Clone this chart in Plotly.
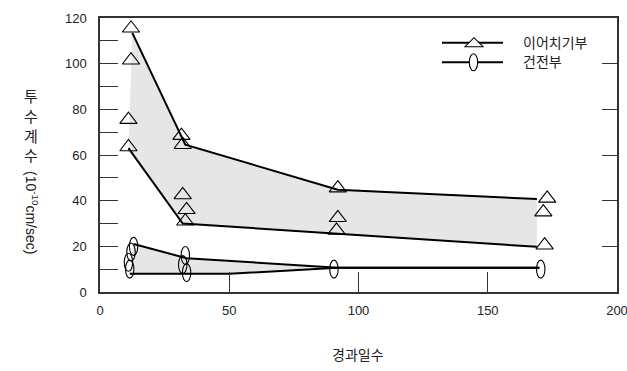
import plotly.graph_objects as go

# ---- data ----
tri_x = [12, 12, 11, 11, 31.5, 32, 32, 33.5, 33, 92, 92, 91.5, 173, 171.5, 172]
tri_y = [115.5, 101.5, 75.5, 63.5, 68.5, 64.5, 42.5, 36, 31, 45.5, 32.5, 27, 41, 35, 20.5]

ell_x = [13, 12, 11, 11.5, 33, 32, 33.5, 90.5, 170.5]
ell_y = [20, 17.5, 13, 10, 16, 12, 8.5, 10, 10]

tri_up_x = [12.5, 33, 92, 169]
tri_up_y = [113.5, 64.5, 44.8, 40.7]
tri_lo_x = [11, 32, 92, 169]
tri_lo_y = [63, 30, 25.5, 19.8]

ell_up_x = [13, 33.5, 92, 170]
ell_up_y = [21, 14.8, 10.6, 10.6]
ell_lo_x = [11.5, 50, 92, 170]
ell_lo_y = [8, 8, 10.6, 10.6]

x_ticks = [0, 50, 100, 150, 200]
y_ticks = [0, 20, 40, 60, 80, 100, 120]

series_names = ["이어치기부", "건전부"]
y_title_kor = ["투", "수", "계", "수"]
y_title_unit = "(10<sup>-10</sup>cm/sec)"
x_title = "경과일수"

# ---- layout helpers (pixel -> paper) ----
L, R, T, B = 100, 617, 18, 292
def px(x):
    return (x - L) / (R - L)
def py(y):
    return (B - y) / (B - T)

FONT = "Liberation Sans, Arial, Noto Sans CJK KR, sans-serif"
FILL = "#e6e6e6"

fig = go.Figure()

# shaded bands
fig.add_trace(go.Scatter(x=tri_up_x + tri_lo_x[::-1], y=tri_up_y + tri_lo_y[::-1],
                         fill="toself", fillcolor=FILL, mode="none", hoverinfo="skip",
                         showlegend=False))
fig.add_trace(go.Scatter(x=ell_up_x + ell_lo_x[::-1], y=ell_up_y + ell_lo_y[::-1],
                         fill="toself", fillcolor=FILL, mode="none", hoverinfo="skip",
                         showlegend=False))

# envelope lines
for xs, ys in [(tri_up_x, tri_up_y), (tri_lo_x, tri_lo_y),
               (ell_up_x, ell_up_y), (ell_lo_x, ell_lo_y)]:
    fig.add_trace(go.Scatter(x=xs, y=ys, mode="lines",
                             line=dict(color="black", width=2), showlegend=False))

# triangle markers (on the overlaid right axis, same range)
fig.add_trace(go.Scatter(x=tri_x, y=tri_y, mode="markers", name=series_names[0],
                         yaxis="y2",
                         marker=dict(symbol="triangle-up-open", size=15,
                                     color="black", line=dict(width=1.1)),
                         showlegend=False))

# ellipse markers (pixel sized shapes anchored at data values)
shapes = []
for xv, yv in zip(ell_x, ell_y):
    shapes.append(dict(type="circle", xref="x", yref="y",
                       xsizemode="pixel", ysizemode="pixel",
                       xanchor=xv, yanchor=yv, x0=-4.2, x1=4.2, y0=-9, y1=9,
                       line=dict(color="black", width=1.1)))

# manual legend
leg_rows = [42.7, 62.2]
for yy in leg_rows:
    shapes.append(dict(type="line", xref="paper", yref="paper",
                       x0=px(442), x1=px(503), y0=py(yy), y1=py(yy),
                       line=dict(color="black", width=2)))
shapes.append(dict(type="path", xref="paper", yref="paper",
                   xsizemode="pixel", ysizemode="pixel",
                   xanchor=px(474), yanchor=py(leg_rows[0]),
                   path="M -9,-4 L 9,-4 L 0,5 Z", fillcolor="white",
                   line=dict(color="black", width=1.1)))
shapes.append(dict(type="circle", xref="paper", yref="paper",
                   xsizemode="pixel", ysizemode="pixel",
                   xanchor=px(473.5), yanchor=py(leg_rows[1]),
                   x0=-4.2, x1=4.2, y0=-8.5, y1=8.5, fillcolor="white",
                   line=dict(color="black", width=1.1)))

annotations = []
for name, yy in zip(series_names, leg_rows):
    annotations.append(dict(text=name, xref="paper", yref="paper",
                            x=px(521), y=py(yy), xanchor="left", yanchor="middle",
                            showarrow=False, font=dict(family=FONT, size=14, color="#222")))

# y title: upright hangul + rotated unit
for ch, yy in zip(y_title_kor, [96, 116, 136, 155]):
    annotations.append(dict(text=ch, xref="paper", yref="paper", x=px(31), y=py(yy),
                            xanchor="center", yanchor="middle", showarrow=False,
                            font=dict(family=FONT, size=15, color="#222")))
annotations.append(dict(text=y_title_unit, xref="paper", yref="paper", x=px(32), y=py(212),
                        xanchor="center", yanchor="middle", textangle=90, showarrow=False,
                        font=dict(family=FONT, size=14, color="#222")))
annotations.append(dict(text=x_title, xref="paper", yref="paper", x=px(358), y=py(355),
                        xanchor="center", yanchor="middle", showarrow=False,
                        font=dict(family=FONT, size=14, color="#222")))

fig.update_layout(
    width=627, height=371,
    margin=dict(l=L, r=627 - R, t=T, b=371 - B, autoexpand=False),
    paper_bgcolor="white", plot_bgcolor="white",
    showlegend=False,
    shapes=shapes, annotations=annotations,
    font=dict(family=FONT, size=13, color="#222"),
    xaxis=dict(range=[0, 200], tickvals=x_ticks, ticks="inside", ticklen=20,
               tickcolor="#333", tickwidth=1.2, automargin=False,
               ticklabeloverflow="allow",
               showline=True, linecolor="#333", linewidth=1.5, mirror=True,
               showgrid=False, zeroline=False, ticklabelstandoff=6),
    yaxis=dict(range=[0, 120], tickvals=y_ticks, ticks="inside", ticklen=18,
               tickcolor="#333", tickwidth=1.2, automargin=False,
               minor=dict(dtick=10, ticks="inside", ticklen=18, tickcolor="#333", tickwidth=1.2),
               showline=True, linecolor="#333", linewidth=1.5, mirror=True,
               showgrid=False, zeroline=False, ticklabelstandoff=9),
    yaxis2=dict(range=[0, 120], overlaying="y", side="right", tickvals=y_ticks,
                ticks="inside", ticklen=15, tickcolor="#333", tickwidth=1.2, automargin=False,
                showticklabels=False, showgrid=False, zeroline=False, showline=False),
)

fig.write_html("out.html", config={"displayModeBar": False},
               post_script="document.body.style.margin='0';")
